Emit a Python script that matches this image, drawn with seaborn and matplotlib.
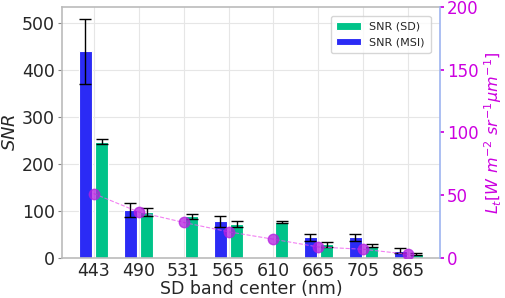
import numpy as np
import pandas as pd
import matplotlib
matplotlib.use('Agg')
import matplotlib.pyplot as plt
import seaborn as sns

# band centers and values
bands = ['443', '490', '531', '565', '610', '665', '705', '865']
snr_msi = [440, 102, np.nan, 78, np.nan, 44, 44, 16]
snr_msi_err = [70, 15, np.nan, 12, np.nan, 8, 8, 6]
snr_sd = [248, 98, 89, 72, 77, 29, 26, 9]
snr_sd_err = [5, 8, 5, 6, 2, 5, 3, 2]
lt = [51.4, 36.7, 28.4, 20.9, 15.0, 8.8, 7.0, 3.0]

blue = '#2b2bf5'
green = '#00c389'
magenta = '#cc00e0'

sns.set_theme(style='whitegrid')
plt.rcParams['font.family'] = ['DejaVu Sans']

df = pd.DataFrame({
    'band': bands * 2,
    'snr': snr_msi + snr_sd,
    'err': snr_msi_err + snr_sd_err,
    'kind': ['SNR (MSI)'] * 8 + ['SNR (SD)'] * 8,
})

fig, ax = plt.subplots(figsize=(5.05, 2.98), dpi=100)
fig.subplots_adjust(left=0.123, right=0.871, top=0.977, bottom=0.134)

sns.barplot(data=df, x='band', y='snr', hue='kind', order=bands,
            hue_order=['SNR (MSI)', 'SNR (SD)'], palette=[blue, green],
            saturation=1, width=0.72, gap=0.2, errorbar=None,
            edgecolor='white', linewidth=0.8, ax=ax)

# error bars on bar centers
offsets = {'SNR (MSI)': -0.18, 'SNR (SD)': 0.18}
for kind, off in offsets.items():
    sub = df[df['kind'] == kind]
    xpos = np.arange(len(bands)) + off
    ax.errorbar(xpos, sub['snr'], yerr=sub['err'], fmt='none',
                ecolor='black', elinewidth=1, capsize=4, capthick=1, zorder=5)

ax.set_xlim(-0.7, 7.7)
ax.set_ylim(0, 535)
ax.set_yticks([0, 100, 200, 300, 400, 500])
ax.set_xlabel('SD band center (nm)', fontsize=12.5, labelpad=0)
ax.set_ylabel('$SNR$', fontsize=13, labelpad=2)
ax.tick_params(axis='both', labelsize=12.5, length=3, width=0.8,
               color='#888888', pad=2)
ax.tick_params(axis='x', length=0, pad=3)
ax.grid(True, color='#e6e6e6', linewidth=0.8)
for s in ['left', 'top', 'bottom']:
    ax.spines[s].set_color('#bbbbbb')
    ax.spines[s].set_linewidth(1.2)
ax.spines['right'].set_visible(False)

handles, labels = ax.get_legend_handles_labels()
ax.legend([handles[1], handles[0]], [labels[1], labels[0]],
          loc='upper right', fontsize=8, frameon=True, fancybox=True,
          shadow=False, edgecolor='#cccccc', borderpad=0.5,
          handlelength=2.2, bbox_to_anchor=(0.99, 0.985))

ax2 = ax.twinx()
ax2.plot(np.arange(len(bands)), lt, color='#ee55ee', linestyle='--',
         linewidth=0.8, marker='o', markersize=7.5,
         markerfacecolor='#b41ee0', markeredgecolor='#b41ee0', alpha=0.75)
ax2.set_ylim(0, 200)
ax2.set_yticks([0, 50, 100, 150, 200])
ax2.grid(False)
ax2.tick_params(axis='y', colors=magenta, labelsize=12, length=3, pad=2)
ax2.set_ylabel('$L_t [W\\ m^{-2}\\ sr^{-1} \\mu m^{-1}]$', color=magenta,
               fontsize=11.5, labelpad=3)
ax2.spines['right'].set_color('#9db4f0')
ax2.spines['right'].set_linewidth(1.2)
for s in ['left', 'top', 'bottom']:
    ax2.spines[s].set_visible(False)

plt.savefig('out.png', dpi=100)
